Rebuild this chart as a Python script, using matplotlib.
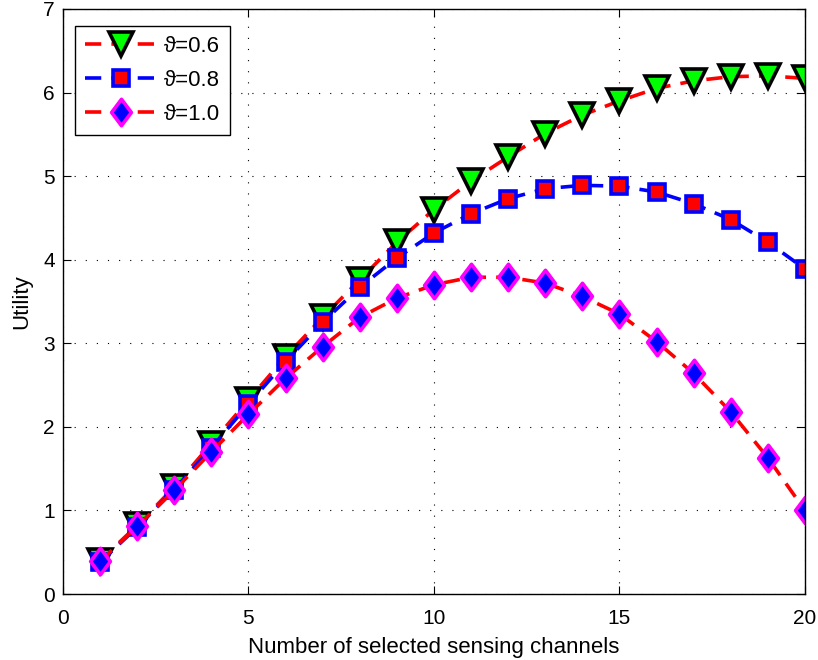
import numpy as np
import matplotlib
matplotlib.use('Agg')
import matplotlib.pyplot as plt
from matplotlib.path import Path

plt.rcParams['font.family'] = ['Liberation Sans', 'DejaVu Sans']

# data
channels = list(range(1, 21))
u_06 = [0.40, 0.82, 1.28, 1.80, 2.32, 2.84, 3.31, 3.76, 4.21, 4.60,
        4.94, 5.23, 5.51, 5.73, 5.90, 6.05, 6.14, 6.19, 6.20, 6.17]
u_08 = [0.38, 0.80, 1.25, 1.75, 2.27, 2.78, 3.25, 3.67, 4.02, 4.32,
        4.55, 4.73, 4.85, 4.89, 4.88, 4.81, 4.67, 4.48, 4.21, 3.89]
u_10 = [0.39, 0.81, 1.24, 1.70, 2.15, 2.58, 2.96, 3.31, 3.54, 3.70,
        3.79, 3.79, 3.72, 3.56, 3.35, 3.02, 2.64, 2.18, 1.63, 1.00]
labels = ['\u03d1=0.6', '\u03d1=0.8', '\u03d1=1.0']

# taller-than-wide diamond like matlab's
diamond = Path([(0, 1), (0.75, 0), (0, -1), (-0.75, 0), (0, 1)],
               [Path.MOVETO, Path.LINETO, Path.LINETO, Path.LINETO, Path.CLOSEPOLY])

fig = plt.figure(figsize=(8.18, 6.6), dpi=100)
ax = fig.add_axes([0.077, 0.1, 0.907, 0.8864])

dash = (0, (4.5, 2.8))
ax.plot(channels, u_06, color='red', ls=dash, lw=2.6, marker='v', ms=17,
        mfc='#00ff00', mec='black', mew=2.6, label=labels[0])
ax.plot(channels, u_08, color='blue', ls=dash, lw=2.6, marker='s', ms=11.5,
        mfc='red', mec='blue', mew=2.6, label=labels[1])
ax.plot(channels, u_10, color='red', ls=dash, lw=2.6, marker=diamond, ms=19,
        mfc='blue', mec='magenta', mew=2.6, label=labels[2])

ax.set_xlim(0, 20)
ax.set_ylim(0, 7)
ax.set_xticks([0, 5, 10, 15, 20])
ax.set_yticks(range(0, 8))
ax.grid(True, color='black', ls=(0, (1, 9)), lw=0.8)
ax.tick_params(direction='in', top=True, right=True, labelsize=15, length=6, pad=6)
ax.tick_params(axis='x', pad=11)
for s in ax.spines.values():
    s.set_linewidth(1.0)

ax.set_xlabel('Number of selected sensing channels', fontsize=16, labelpad=6)
ax.set_ylabel('Utility', fontsize=16, labelpad=8)

leg = ax.legend(loc='upper left', bbox_to_anchor=(0.0162, 0.971), borderaxespad=0,
                fontsize=16, fancybox=False, framealpha=1,
                edgecolor='black', handlelength=3.2, handletextpad=0.35,
                labelspacing=0.58, borderpad=0.45)
leg.get_frame().set_linewidth(1.0)

fig.savefig('out.png', dpi=100)
